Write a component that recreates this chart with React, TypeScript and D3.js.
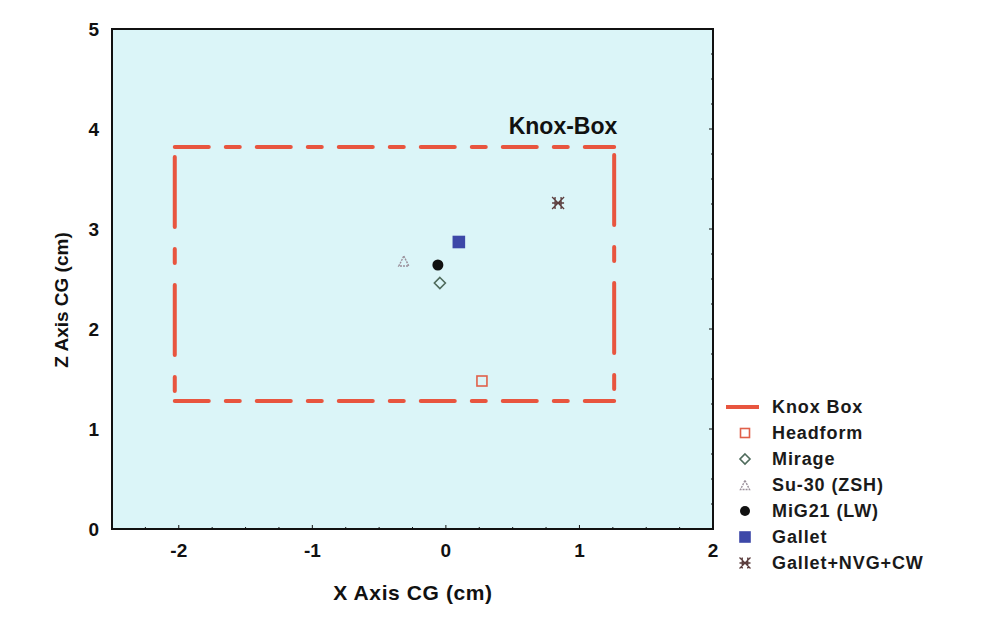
import React from "react";
import * as d3 from "d3";

const seriesNames = ["Headform", "Mirage", "Su-30 (ZSH)", "MiG21 (LW)", "Gallet", "Gallet+NVG+CW"];
const xValues = [0.27, -0.045, -0.315, -0.06, 0.097, 0.84];
const zValues = [1.48, 2.46, 2.68, 2.64, 2.87, 3.26];
const knoxX = [-2.03, 1.26];
const knoxZ = [1.28, 3.82];
const xTicks = [-2, -1, 0, 1, 2];
const zTicks = [0, 1, 2, 3, 4, 5];

const W = 988, H = 628;
const FONT = "'Liberation Sans', Arial, sans-serif";
const RED = "#e8553f";

type Style = { kind: string; stroke: string; fill: string; size: number };
const styles: Style[] = [
  { kind: "square", stroke: "#e0604a", fill: "none", size: 10 },
  { kind: "diamond", stroke: "#4f6b5c", fill: "none", size: 11 },
  { kind: "triangle", stroke: "#9a8f9a", fill: "none", size: 10 },
  { kind: "circle", stroke: "#111", fill: "#111", size: 11 },
  { kind: "square", stroke: "#3d48a8", fill: "#3d48a8", size: 11 },
  { kind: "star", stroke: "#5a3c3c", fill: "none", size: 12 },
];

function Marker({ s, cx, cy }: { s: Style; cx: number; cy: number }) {
  const r = s.size / 2;
  if (s.kind === "square") {
    return <rect x={cx - r} y={cy - r} width={s.size} height={s.size} fill={s.fill} stroke={s.stroke} strokeWidth={1.6} />;
  }
  if (s.kind === "diamond") {
    return <path d={`M${cx},${cy - r}L${cx + r},${cy}L${cx},${cy + r}L${cx - r},${cy}Z`} fill="none" stroke={s.stroke} strokeWidth={1.6} />;
  }
  if (s.kind === "triangle") {
    return <path d={`M${cx},${cy - r}L${cx + r},${cy + r}L${cx - r},${cy + r}Z`} fill="none" stroke={s.stroke} strokeWidth={1.4} strokeDasharray="2 1" />;
  }
  if (s.kind === "circle") {
    return <circle cx={cx} cy={cy} r={r} fill={s.fill} />;
  }
  const p = `M${cx - r},${cy}L${cx + r},${cy}M${cx - r * 0.5},${cy - r}L${cx - r * 0.5},${cy + r}M${cx + r * 0.5},${cy - r}L${cx + r * 0.5},${cy + r}M${cx - r},${cy - r}L${cx + r},${cy + r}M${cx + r},${cy - r}L${cx - r},${cy + r}`;
  return <path d={p} stroke={s.stroke} strokeWidth={1.3} fill="none" />;
}

export default function App() {
  const x = d3.scaleLinear().domain([-2.5, 2]).range([112, 713]);
  const y = d3.scaleLinear().domain([0, 5]).range([529, 29]);
  const minorX = d3.range(-2.5, 2.0001, 0.25);
  const minorY = d3.range(0, 5.0001, 0.25);

  const kx0 = x(knoxX[0]), kx1 = x(knoxX[1]);
  const ky0 = y(knoxZ[1]), ky1 = y(knoxZ[0]);
  const dash = "34 17 14 17";

  const legX = 726, legY0 = 407, legDy = 26;

  return (
    <svg width={W} height={H} style={{ position: "absolute", left: 0, top: 0, background: "#fff" }} fontFamily={FONT}>
      <rect x={0} y={0} width={W} height={H} fill="#fff" />
      <rect x={x(-2.5)} y={y(5)} width={x(2) - x(-2.5)} height={y(0) - y(5)} fill="#dbf5f8" />

      <g stroke={RED} strokeWidth={4} fill="none" strokeLinecap="round">
        <line x1={kx0} y1={ky0} x2={kx1} y2={ky0} strokeDasharray={dash} />
        <line x1={kx0} y1={ky1} x2={kx1} y2={ky1} strokeDasharray={dash} />
        <line x1={kx0} y1={ky0 + 10} x2={kx0} y2={ky1 - 6} strokeDasharray="70 22 14 22" />
        <line x1={kx1} y1={ky0 + 8} x2={kx1} y2={ky1 - 6} strokeDasharray="70 22 14 22" />
      </g>
      <text x={563} y={ky0 - 13} textAnchor="middle" fontSize={23} fontWeight="bold" fill="#111">Knox-Box</text>

      {xValues.map((xv, i) => (
        <Marker key={i} s={styles[i]} cx={x(xv)} cy={y(zValues[i])} />
      ))}

      <rect x={x(-2.5)} y={y(5)} width={x(2) - x(-2.5)} height={y(0) - y(5)} fill="none" stroke="#111" strokeWidth={2} />
      {minorX.map((v, i) => (
        <line key={"mx" + i} x1={x(v)} x2={x(v)} y1={y(0)} y2={y(0) - (Math.abs(v % 1) < 1e-6 ? 4 : 2)} stroke="#111" strokeWidth={1} />
      ))}
      {minorY.map((v, i) => (
        <line key={"my" + i} x1={x(2)} x2={x(2) - (Math.abs(v % 1) < 1e-6 ? 4 : 2)} y1={y(v)} y2={y(v)} stroke="#111" strokeWidth={1} />
      ))}

      {xTicks.map((t) => (
        <text key={"xt" + t} x={x(t)} y={557} textAnchor="middle" fontSize={19} fontWeight="bold" fill="#111">{t}</text>
      ))}
      {zTicks.map((t) => (
        <text key={"zt" + t} x={99} y={y(t) + 7} textAnchor="end" fontSize={19} fontWeight="bold" fill="#111">{t}</text>
      ))}

      <text x={413} y={600} textAnchor="middle" fontSize={21} fontWeight="bold" fill="#111" letterSpacing={0.6}>X Axis CG (cm)</text>
      <text transform={`translate(68,${300}) rotate(-90)`} textAnchor="middle" fontSize={19} fontWeight="bold" fill="#111">Z Axis CG (cm)</text>

      <line x1={legX} x2={legX + 33} y1={legY0} y2={legY0} stroke={RED} strokeWidth={4} />
      <text x={772} y={legY0 + 6} fontSize={18} fontWeight="bold" fill="#1a1a1a" letterSpacing={0.9}>Knox Box</text>
      {seriesNames.map((n, i) => {
        const cy = legY0 + legDy * (i + 1);
        return (
          <g key={n}>
            <Marker s={{ ...styles[i], size: styles[i].size - 1 }} cx={745} cy={cy} />
            <text x={772} y={cy + 6} fontSize={18} fontWeight="bold" fill="#1a1a1a" letterSpacing={0.9}>{n}</text>
          </g>
        );
      })}
    </svg>
  );
}
